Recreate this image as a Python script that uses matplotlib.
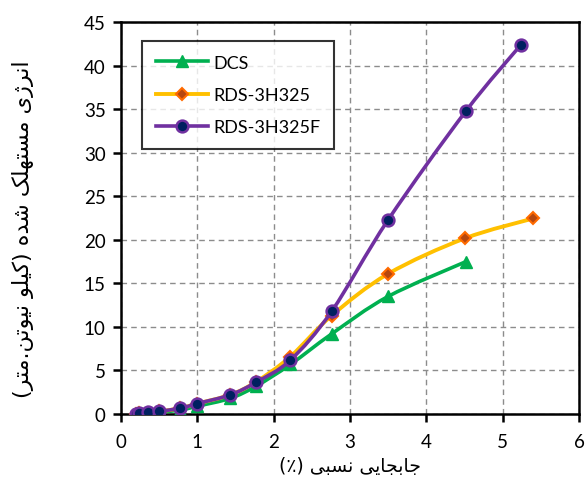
import matplotlib
matplotlib.use("Agg")
import matplotlib.pyplot as plt
from matplotlib.path import Path
from matplotlib.patches import PathPatch
from matplotlib.lines import Line2D

# ---------------- data ----------------
drift_dcs = [0.20, 0.24, 0.36, 0.50, 0.77, 1.00, 1.43, 1.77, 2.22, 2.76, 3.50, 4.52]
energy_dcs = [0.0, 0.03, 0.10, 0.20, 0.45, 0.90, 1.80, 3.20, 5.70, 9.20, 13.50, 17.50]

drift_rds = [0.20, 0.24, 0.36, 0.50, 0.77, 1.00, 1.43, 1.77, 2.22, 2.76, 3.50, 4.50, 5.40]
energy_rds = [0.05, 0.08, 0.15, 0.30, 0.65, 1.20, 2.20, 3.70, 6.60, 11.30, 16.10, 20.15, 22.45]

drift_rdsf = [0.20, 0.24, 0.36, 0.50, 0.77, 1.00, 1.43, 1.77, 2.22, 2.76, 3.50, 4.52, 5.24]
energy_rdsf = [0.05, 0.08, 0.18, 0.32, 0.65, 1.20, 2.20, 3.65, 6.20, 11.80, 22.30, 34.80, 42.40]

series_names = ["DCS", "RDS-3H325", "RDS-3H325F"]
x_ticks = [0, 1, 2, 3, 4, 5, 6]
y_ticks = [0, 5, 10, 15, 20, 25, 30, 35, 40, 45]
x_label = "جابجایی نسبی (٪)"
y_label = "انرژی مستهلک شده (کیلو نیوتن.متر)"

# ---------------- simple Arabic/Persian shaping ----------------
FORMS = {
    'ا': ('\uFE8D', '\uFE8E', None, None),
    'ب': ('\uFE8F', '\uFE90', '\uFE91', '\uFE92'),
    'ت': ('\uFE95', '\uFE96', '\uFE97', '\uFE98'),
    'ج': ('\uFE9D', '\uFE9E', '\uFE9F', '\uFEA0'),
    'د': ('\uFEA9', '\uFEAA', None, None),
    'ر': ('\uFEAD', '\uFEAE', None, None),
    'ژ': ('\uFB8A', '\uFB8B', None, None),
    'س': ('\uFEB1', '\uFEB2', '\uFEB3', '\uFEB4'),
    'ش': ('\uFEB5', '\uFEB6', '\uFEB7', '\uFEB8'),
    'ل': ('\uFEDD', '\uFEDE', '\uFEDF', '\uFEE0'),
    'م': ('\uFEE1', '\uFEE2', '\uFEE3', '\uFEE4'),
    'ن': ('\uFEE5', '\uFEE6', '\uFEE7', '\uFEE8'),
    'ه': ('\uFEE9', '\uFEEA', '\uFEEB', '\uFEEC'),
    'و': ('\uFEED', '\uFEEE', None, None),
    'ی': ('\uFBFC', '\uFBFD', '\uFBFE', '\uFBFF'),
    'ک': ('\uFB8E', '\uFB8F', '\uFB90', '\uFB91'),
}


def shape_rtl(text):
    out = []
    n = len(text)
    for i, c in enumerate(text):
        if c not in FORMS:
            out.append(c)
            continue
        prev = text[i - 1] if i > 0 else None
        nxt = text[i + 1] if i + 1 < n else None
        join_prev = prev in FORMS and FORMS[prev][2] is not None
        join_next = FORMS[c][2] is not None and nxt in FORMS
        iso, fin, ini, med = FORMS[c]
        if join_prev and join_next:
            out.append(med)
        elif join_prev:
            out.append(fin)
        elif join_next:
            out.append(ini)
        else:
            out.append(iso)
    vis = ''.join(reversed(out))
    return vis.translate({ord('('): ')', ord(')'): '('})


def smooth_path(xs, ys):
    pts = list(zip(xs, ys))
    n = len(pts)
    verts = [pts[0]]
    codes = [Path.MOVETO]
    for i in range(n - 1):
        p0 = pts[i - 1] if i > 0 else pts[i]
        p1 = pts[i]
        p2 = pts[i + 1]
        p3 = pts[i + 2] if i + 2 < n else pts[i + 1]
        c1 = (p1[0] + (p2[0] - p0[0]) / 6.0, p1[1] + (p2[1] - p0[1]) / 6.0)
        c2 = (p2[0] - (p3[0] - p1[0]) / 6.0, p2[1] - (p3[1] - p1[1]) / 6.0)
        verts += [c1, c2, p2]
        codes += [Path.CURVE4] * 3
    return Path(verts, codes)


plt.rcParams['font.family'] = ['Lato', 'DejaVu Sans']

fig = plt.figure(figsize=(5.86, 4.85), dpi=100)
ax = fig.add_axes([0.2065, 0.1443, 0.7816, 0.8082])

styles = [
    dict(color='#00B050', marker='^', ms=9, mfc='#00B050', mec='#00B050', mew=1.0, lw=2.6),
    dict(color='#FFC000', marker='D', ms=6.5, mfc='#B5470F', mec='#FF6A00', mew=1.5, lw=2.8),
    dict(color='#7030A0', marker='o', ms=8.5, mfc='#002060', mec='#7030A0', mew=1.8, lw=2.6),
]
data = [(drift_dcs, energy_dcs), (drift_rds, energy_rds), (drift_rdsf, energy_rdsf)]

handles = []
for k, ((xs, ys), st) in enumerate(zip(data, styles)):
    patch = PathPatch(smooth_path(xs, ys), facecolor='none', edgecolor=st['color'],
                      lw=st['lw'], zorder=3 + 2 * k, capstyle='round', joinstyle='round')
    ax.add_patch(patch)
    ax.plot(xs, ys, ls='none', marker=st['marker'], ms=st['ms'], mfc=st['mfc'],
            mec=st['mec'], mew=st['mew'], zorder=4 + 2 * k)
    handles.append(Line2D([], [], color=st['color'], lw=st['lw'], marker=st['marker'],
                          ms=st['ms'], mfc=st['mfc'], mec=st['mec'], mew=st['mew']))

ax.set_xlim(0, 6)
ax.set_ylim(0, 45)
ax.set_xticks(x_ticks)
ax.set_yticks(y_ticks)
ax.tick_params(axis='both', direction='out', length=6, width=1.8, labelsize=13.5)
ax.tick_params(axis='x', pad=8)
ax.tick_params(axis='y', pad=5)
for s in ax.spines.values():
    s.set_linewidth(1.8)
    s.set_color('black')
ax.grid(True, color='#8C8C8C', ls=(0, (4, 3)), lw=1.0)
ax.set_axisbelow(True)

leg = ax.legend(handles, series_names, loc='upper left', bbox_to_anchor=(0.0465, 0.951),
                borderaxespad=0, frameon=True, fancybox=False, edgecolor='black',
                fontsize=13, handlelength=2.9, handletextpad=0.3, labelspacing=0.9,
                borderpad=0.75)
leg.get_frame().set_linewidth(1.5)

ax.set_xlabel(shape_rtl(x_label), family=['DejaVu Sans'], fontsize=13.5, labelpad=4)
ax.set_ylabel(shape_rtl(y_label), family=['DejaVu Sans'], fontsize=16)
ax.yaxis.set_label_coords(-0.19, 0.474)

fig.savefig('out.png', dpi=100)
